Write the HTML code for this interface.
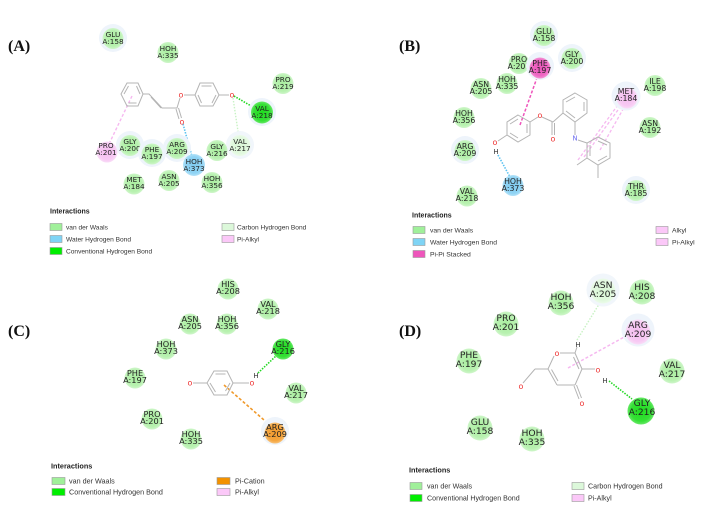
<!DOCTYPE html>
<html><head><meta charset="utf-8"><style>
html,body{margin:0;padding:0;background:#fff;}
svg{display:block;}
.r text{font-family:"DejaVu Sans",sans-serif;fill:#222;text-anchor:middle;}
.lg{font-family:"Liberation Sans",sans-serif;fill:#333;}
.lgt{font-family:"Liberation Sans",sans-serif;font-weight:bold;fill:#222;}
.pl{font-family:"Liberation Serif",serif;font-weight:bold;font-size:16px;fill:#111;}
.b{stroke:#b4b4b4;stroke-width:1;fill:none;}
.o{font-family:"DejaVu Sans",sans-serif;font-size:8px;fill:#e33;text-anchor:middle;}
.h{font-family:"DejaVu Sans",sans-serif;font-size:7px;fill:#333;text-anchor:middle;}
</style></head><body>
<svg width="719" height="511" viewBox="0 0 719 511" xmlns="http://www.w3.org/2000/svg">
<defs>
<radialGradient id="gv"><stop offset="0" stop-color="#a9ee9f"/><stop offset="0.75" stop-color="#b8f1b0"/><stop offset="1" stop-color="#cff6ca"/></radialGradient>
<radialGradient id="gc"><stop offset="0" stop-color="#1fdc1f"/><stop offset="0.75" stop-color="#35e035"/><stop offset="1" stop-color="#66e866"/></radialGradient>
<radialGradient id="gw"><stop offset="0" stop-color="#7fcbf0"/><stop offset="0.75" stop-color="#8fd3f4"/><stop offset="1" stop-color="#b3e2f8"/></radialGradient>
<radialGradient id="gp"><stop offset="0" stop-color="#f4bdef"/><stop offset="0.75" stop-color="#f7c9f3"/><stop offset="1" stop-color="#f9dcf7"/></radialGradient>
<radialGradient id="gh"><stop offset="0" stop-color="#ea55bb"/><stop offset="0.75" stop-color="#ee66c3"/><stop offset="1" stop-color="#f294d4"/></radialGradient>
<radialGradient id="go"><stop offset="0" stop-color="#f39a2c"/><stop offset="0.75" stop-color="#f5a63f"/><stop offset="1" stop-color="#f8c27a"/></radialGradient>
<radialGradient id="gl"><stop offset="0" stop-color="#d9f6d5"/><stop offset="0.75" stop-color="#e0f8dd"/><stop offset="1" stop-color="#ecfbea"/></radialGradient>
</defs>

<!-- Panel labels -->
<text class="pl" x="8" y="51">(A)</text>
<text class="pl" x="399" y="51">(B)</text>
<text class="pl" x="8" y="336">(C)</text>
<text class="pl" x="399" y="336">(D)</text>

<!-- ============ PANEL A ============ -->
<line x1="234" y1="96" x2="258" y2="110" stroke="#22d822" stroke-width="1.6" stroke-dasharray="1.5 1.3"/>
<line x1="233" y1="98" x2="239" y2="138" stroke="#c8f2c4" stroke-width="1.4" stroke-dasharray="1.5 1.5"/>
<line x1="183" y1="124" x2="193" y2="160" stroke="#5cc2f0" stroke-width="1.6" stroke-dasharray="1.5 1.3"/>
<line x1="132" y1="96" x2="109" y2="144" stroke="#f6b8f0" stroke-width="1.4" stroke-dasharray="3 2"/>
<polygon class="b" points="121,94 127,83 138,83 143,94 138,106 127,106"/>
<polyline class="b" points="124,94 128.5,86"/>
<polyline class="b" points="136.5,86 140,94"/>
<polyline class="b" points="128.5,103 136.5,103"/>
<polyline class="b" points="143,94 149,94 162,108 177,108 180,98"/>
<line class="b" x1="151" y1="97" x2="161" y2="108"/>
<line class="b" x1="176" y1="109" x2="179" y2="119"/>
<line class="b" x1="178.5" y1="108" x2="181.5" y2="118"/>
<line class="b" x1="184" y1="95" x2="195" y2="95"/>
<polygon class="b" points="195,95 200,83 213,83 219,95 213,106 200,106"/>
<polyline class="b" points="201.5,86 211.5,86"/>
<polyline class="b" points="216,95 212,103"/>
<polyline class="b" points="198,95 201.5,103"/>
<line class="b" x1="219" y1="95" x2="229" y2="95"/>
<text class="o" x="181" y="97.5">o</text>
<text class="o" x="182" y="124.5">o</text>
<text class="o" x="232" y="97.5">o</text>

<g class="r" font-size="7.3">
<circle cx="113" cy="38" r="14" fill="#eef4fb"/><circle cx="113" cy="38.5" r="10.5" fill="url(#gv)"/><text x="113" y="37">GLU</text><text x="113" y="44">A:158</text>
<circle cx="168" cy="52.5" r="10.5" fill="url(#gv)"/><text x="168" y="51">HOH</text><text x="168" y="58">A:335</text>
<circle cx="283" cy="83.5" r="10.5" fill="url(#gv)"/><text x="283" y="82">PRO</text><text x="283" y="89">A:219</text>
<circle cx="262" cy="112" r="14" fill="#eef4fb"/><circle cx="262" cy="112.5" r="11" fill="url(#gc)"/><text x="262" y="111">VAL</text><text x="262" y="118">A:218</text>
<circle cx="240" cy="145" r="14" fill="#f1f6fb"/><circle cx="240" cy="145.5" r="10.5" fill="url(#gl)"/><text x="240" y="144">VAL</text><text x="240" y="151">A:217</text>
<circle cx="107" cy="152" r="10.5" fill="url(#gp)"/><text x="106" y="148">PRO</text><text x="106" y="155">A:201</text>
<circle cx="130" cy="145" r="14" fill="#eef4fb"/><circle cx="130" cy="145.5" r="10.5" fill="url(#gv)"/><text x="130" y="144">GLY</text><text x="130" y="151">A:200</text>
<circle cx="152" cy="153" r="14" fill="#eef4fb"/><circle cx="152" cy="154" r="10.5" fill="url(#gv)"/><text x="152" y="152">PHE</text><text x="152" y="159">A:197</text>
<circle cx="177" cy="148" r="14" fill="#eef4fb"/><circle cx="177" cy="148.5" r="10.5" fill="url(#gv)"/><text x="177" y="147">ARG</text><text x="177" y="154">A:209</text>
<circle cx="194" cy="165" r="11" fill="url(#gw)"/><text x="194" y="164">HOH</text><text x="194" y="171">A:373</text>
<circle cx="217" cy="150.5" r="10.5" fill="url(#gv)"/><text x="217" y="149">GLY</text><text x="217" y="156">A:216</text>
<circle cx="134" cy="184" r="10.5" fill="url(#gv)"/><text x="134" y="182">MET</text><text x="134" y="189">A:184</text>
<circle cx="169" cy="180.5" r="10.5" fill="url(#gv)"/><text x="169" y="179">ASN</text><text x="169" y="186">A:205</text>
<circle cx="212" cy="182.5" r="10.5" fill="url(#gv)"/><text x="212" y="181">HOH</text><text x="212" y="188">A:356</text>
</g>

<text class="lgt" x="50" y="213.5" font-size="7">Interactions</text>
<rect x="50" y="223.5" width="12" height="7" fill="#a0f09a" stroke="#999" stroke-width="0.6"/>
<text class="lg" x="66" y="229.5" font-size="6.6">van der Waals</text>
<rect x="50" y="235.5" width="12" height="7" fill="#7fd4f5" stroke="#999" stroke-width="0.6"/>
<text class="lg" x="66" y="241.5" font-size="6.6">Water Hydrogen Bond</text>
<rect x="50" y="247.5" width="12" height="7" fill="#00ee00" stroke="#999" stroke-width="0.6"/>
<text class="lg" x="66" y="253.5" font-size="6.6">Conventional Hydrogen Bond</text>
<rect x="222" y="223.5" width="12" height="7" fill="#dcf8da" stroke="#999" stroke-width="0.6"/>
<text class="lg" x="237" y="229.5" font-size="6.6">Carbon Hydrogen Bond</text>
<rect x="222" y="235.5" width="12" height="7" fill="#fbc8f8" stroke="#999" stroke-width="0.6"/>
<text class="lg" x="237" y="241.5" font-size="6.6">Pi-Alkyl</text>

<!-- ============ PANEL B ============ -->
<line x1="520" y1="125" x2="538" y2="75" stroke="#ee55bb" stroke-width="1.5" stroke-dasharray="3 1.8"/>
<line x1="578" y1="160" x2="620" y2="102" stroke="#f6b8f0" stroke-width="1.3" stroke-dasharray="3 2"/>
<line x1="584" y1="157" x2="623" y2="103" stroke="#f6b8f0" stroke-width="1.3" stroke-dasharray="3 2"/>
<line x1="600" y1="150" x2="626" y2="104" stroke="#f6b8f0" stroke-width="1.3" stroke-dasharray="3 2"/>
<line x1="498" y1="155" x2="510" y2="177" stroke="#5cc2f0" stroke-width="1.6" stroke-dasharray="1.5 1.3"/>
<polygon class="b" points="518,115 530,122 530,135 518,142 507,135 507,122"/>
<line class="b" x1="510" y1="124" x2="518" y2="119"/>
<line class="b" x1="527" y1="124" x2="527" y2="133"/>
<line class="b" x1="510" y1="133" x2="518" y2="138"/>
<line class="b" x1="507" y1="135" x2="498" y2="141"/>
<line class="b" x1="530" y1="122" x2="538" y2="117"/>
<line class="b" x1="542" y1="117" x2="553" y2="122"/>
<line class="b" x1="552" y1="122" x2="552" y2="135"/>
<line class="b" x1="554.5" y1="123" x2="554.5" y2="135"/>
<line class="b" x1="553" y1="122" x2="563" y2="113"/>
<polygon class="b" points="575,93 587,100 587,113 575,122 563,113 563,100"/>
<line class="b" x1="566" y1="102" x2="575" y2="97"/>
<line class="b" x1="584" y1="102" x2="584" y2="111"/>
<line class="b" x1="566" y1="111" x2="575" y2="118"/>
<line class="b" x1="575" y1="122" x2="575" y2="135"/>
<line class="b" x1="578" y1="140" x2="587" y2="143"/>
<polygon class="b" points="598,137 610,143 610,158 598,165 587,158 587,143"/>
<line class="b" x1="598" y1="141" x2="607" y2="145"/>
<line class="b" x1="607" y1="156" x2="598" y2="161"/>
<line class="b" x1="590" y1="145" x2="590" y2="156"/>
<line class="b" x1="587" y1="158" x2="577" y2="165"/>
<line class="b" x1="598" y1="165" x2="598" y2="178"/>
<text class="o" x="495" y="145">o</text>
<text class="h" x="496" y="154" font-size="6">H</text>
<text class="o" x="540" y="118">o</text>
<text class="o" x="553" y="141.5">o</text>
<text x="575" y="140.5" font-family="DejaVu Sans" font-size="7" fill="#7070f0" text-anchor="middle">N</text>

<g class="r" font-size="7.8">
<circle cx="544" cy="35" r="14" fill="#eef4fb"/><circle cx="544" cy="35.5" r="10.5" fill="url(#gv)"/><text x="544" y="34">GLU</text><text x="544" y="41">A:158</text>
<circle cx="572" cy="58" r="14" fill="#eef4fb"/><circle cx="572" cy="58.5" r="10.5" fill="url(#gv)"/><text x="572" y="57">GLY</text><text x="572" y="64">A:200</text>
<circle cx="519" cy="63.5" r="10.5" fill="url(#gv)"/><text x="519" y="62">PRO</text><text x="519" y="69">A:201</text>
<circle cx="540" cy="66" r="14" fill="#eef4fb"/><circle cx="540" cy="68" r="10.5" fill="url(#gh)"/><text x="540" y="66">PHE</text><text x="540" y="73">A:197</text>
<circle cx="481" cy="88.5" r="10.5" fill="url(#gv)"/><text x="481" y="87">ASN</text><text x="481" y="94">A:205</text>
<circle cx="507" cy="83.5" r="10.5" fill="url(#gv)"/><text x="507" y="82">HOH</text><text x="507" y="89">A:335</text>
<circle cx="626" cy="96" r="14.5" fill="#eef4fb"/><circle cx="627" cy="98" r="10.5" fill="url(#gp)"/><text x="626" y="94">MET</text><text x="626" y="101">A:184</text>
<circle cx="655" cy="85.5" r="10.5" fill="url(#gv)"/><text x="655" y="84">ILE</text><text x="655" y="91">A:198</text>
<circle cx="650" cy="127.5" r="10.5" fill="url(#gv)"/><text x="650" y="126">ASN</text><text x="650" y="133">A:192</text>
<circle cx="464" cy="117.5" r="10.5" fill="url(#gv)"/><text x="464" y="116">HOH</text><text x="464" y="123">A:356</text>
<circle cx="465" cy="150" r="14" fill="#eef4fb"/><circle cx="465" cy="150.5" r="10.5" fill="url(#gv)"/><text x="465" y="149">ARG</text><text x="465" y="156">A:209</text>
<circle cx="513" cy="185.5" r="10.5" fill="url(#gw)"/><text x="513" y="184">HOH</text><text x="513" y="191">A:373</text>
<circle cx="467" cy="196" r="10.5" fill="url(#gv)"/><text x="467" y="194">VAL</text><text x="467" y="201">A:218</text>
<circle cx="636" cy="190" r="14" fill="#eef4fb"/><circle cx="636" cy="190.5" r="10.5" fill="url(#gv)"/><text x="636" y="189">THR</text><text x="636" y="196">A:185</text>
</g>

<text class="lgt" x="412" y="217.5" font-size="7">Interactions</text>
<rect x="413" y="226.5" width="12" height="7" fill="#a0f09a" stroke="#999" stroke-width="0.6"/>
<text class="lg" x="430" y="232.5" font-size="6.8">van der Waals</text>
<rect x="413" y="238.5" width="12" height="7" fill="#7fd4f5" stroke="#999" stroke-width="0.6"/>
<text class="lg" x="430" y="244.5" font-size="6.8">Water Hydrogen Bond</text>
<rect x="413" y="250.5" width="12" height="7" fill="#ee55bb" stroke="#999" stroke-width="0.6"/>
<text class="lg" x="430" y="256.5" font-size="6.8">Pi-Pi Stacked</text>
<rect x="656" y="226.5" width="12" height="7" fill="#fbc8f8" stroke="#999" stroke-width="0.6"/>
<text class="lg" x="672" y="232.5" font-size="6.8">Alkyl</text>
<rect x="656" y="238.5" width="12" height="7" fill="#fbc8f8" stroke="#999" stroke-width="0.6"/>
<text class="lg" x="672" y="244.5" font-size="6.8">Pi-Alkyl</text>

<!-- ============ PANEL C ============ -->
<line x1="258" y1="373" x2="277" y2="355" stroke="#22d822" stroke-width="1.6" stroke-dasharray="1.5 1.3"/>
<line x1="224" y1="385" x2="272" y2="427" stroke="#f0992a" stroke-width="1.6" stroke-dasharray="3 2"/>
<polygon class="b" points="207,383 214,371 227,371 233,383 227,395 214,395"/>
<line class="b" x1="215.5" y1="374" x2="225.5" y2="374"/>
<line class="b" x1="230" y1="383" x2="225.5" y2="391"/>
<line class="b" x1="210" y1="383" x2="215.5" y2="392"/>
<line class="b" x1="207" y1="383" x2="193" y2="383"/>
<line class="b" x1="233" y1="383" x2="249" y2="383"/>
<text class="o" x="190" y="385.5">o</text>
<text class="o" x="252" y="385.5">o</text>
<text class="h" x="256" y="378" font-size="6">H</text>

<g class="r" font-size="8.2">
<circle cx="228" cy="289" r="10.5" fill="url(#gv)"/><text x="228" y="287">HIS</text><text x="228" y="294">A:208</text>
<circle cx="268" cy="309" r="10.5" fill="url(#gv)"/><text x="268" y="307">VAL</text><text x="268" y="314">A:218</text>
<circle cx="190" cy="324" r="10.5" fill="url(#gv)"/><text x="190" y="322">ASN</text><text x="190" y="329">A:205</text>
<circle cx="227" cy="324" r="10.5" fill="url(#gv)"/><text x="227" y="322">HOH</text><text x="227" y="329">A:356</text>
<circle cx="166" cy="349" r="10.5" fill="url(#gv)"/><text x="166" y="347">HOH</text><text x="166" y="354">A:373</text>
<circle cx="283" cy="349" r="10.5" fill="url(#gc)"/><text x="283" y="347">GLY</text><text x="283" y="354">A:216</text>
<circle cx="135" cy="378" r="10.5" fill="url(#gv)"/><text x="135" y="376">PHE</text><text x="135" y="383">A:197</text>
<circle cx="296" cy="393" r="10.5" fill="url(#gv)"/><text x="296" y="391">VAL</text><text x="296" y="398">A:217</text>
<circle cx="152" cy="419" r="10.5" fill="url(#gv)"/><text x="152" y="417">PRO</text><text x="152" y="424">A:201</text>
<circle cx="191" cy="439" r="10.5" fill="url(#gv)"/><text x="191" y="437">HOH</text><text x="191" y="444">A:335</text>
<circle cx="275" cy="431" r="14" fill="#eef4fb"/><circle cx="275" cy="433" r="10.5" fill="url(#go)"/><text x="275" y="430">ARG</text><text x="275" y="437">A:209</text>
</g>

<text class="lgt" x="51" y="468.5" font-size="7.3">Interactions</text>
<rect x="52" y="477.5" width="13" height="7" fill="#a0f09a" stroke="#999" stroke-width="0.6"/>
<text class="lg" x="69" y="483.5" font-size="7.2">van der Waals</text>
<rect x="52" y="488.5" width="13" height="7" fill="#00ee00" stroke="#999" stroke-width="0.6"/>
<text class="lg" x="69" y="494.5" font-size="7.2">Conventional Hydrogen Bond</text>
<rect x="217" y="477.5" width="13" height="7" fill="#f39200" stroke="#999" stroke-width="0.6"/>
<text class="lg" x="235" y="483.5" font-size="7.2">Pi-Cation</text>
<rect x="217" y="488.5" width="13" height="7" fill="#fbc8f8" stroke="#999" stroke-width="0.6"/>
<text class="lg" x="235" y="494.5" font-size="7.2">Pi-Alkyl</text>

<!-- ============ PANEL D ============ -->
<line x1="577" y1="340" x2="601" y2="301" stroke="#c8f2c4" stroke-width="1.4" stroke-dasharray="1.5 1.5"/>
<line x1="568" y1="368" x2="626" y2="336" stroke="#f6b8f0" stroke-width="1.5" stroke-dasharray="3 2"/>
<line x1="609" y1="381" x2="632" y2="399" stroke="#22d822" stroke-width="1.6" stroke-dasharray="1.5 1.3"/>
<line class="b" x1="560" y1="353" x2="575" y2="353"/>
<line class="b" x1="575" y1="353" x2="582" y2="369"/>
<line class="b" x1="573.5" y1="357" x2="579" y2="369"/>
<line class="b" x1="582" y1="369" x2="575" y2="385"/>
<line class="b" x1="575" y1="385" x2="557" y2="385"/>
<line class="b" x1="557" y1="385" x2="548" y2="369"/>
<line class="b" x1="558" y1="381" x2="551.5" y2="369.5"/>
<line class="b" x1="548" y1="369" x2="554" y2="356"/>
<line class="b" x1="575" y1="353" x2="577" y2="347"/>
<line class="b" x1="582" y1="369" x2="595" y2="369"/>
<line class="b" x1="574" y1="386" x2="579" y2="399"/>
<line class="b" x1="576.5" y1="385" x2="581.5" y2="398"/>
<line class="b" x1="548" y1="369" x2="535" y2="369"/>
<line class="b" x1="535" y1="369" x2="523" y2="383"/>
<text class="o" x="557" y="356" font-size="9">o</text>
<text class="o" x="598" y="372.5" font-size="9">o</text>
<text class="o" x="582" y="406" font-size="9">o</text>
<text class="o" x="521" y="389" font-size="9">o</text>
<text class="h" x="578" y="347" font-size="7">H</text>
<text class="h" x="605" y="383" font-size="7">H</text>

<g class="r" font-size="9.2">
<circle cx="603" cy="290" r="16.5" fill="#f1f6fb"/><circle cx="603" cy="291" r="12.5" fill="url(#gl)"/><text x="603" y="288">ASN</text><text x="603" y="297">A:205</text>
<circle cx="642" cy="292" r="12.5" fill="url(#gv)"/><text x="642" y="290">HIS</text><text x="642" y="299">A:208</text>
<circle cx="561" cy="303" r="12.5" fill="url(#gv)"/><text x="561" y="300">HOH</text><text x="561" y="309">A:356</text>
<circle cx="506" cy="324" r="12.5" fill="url(#gv)"/><text x="506" y="321">PRO</text><text x="506" y="330">A:201</text>
<circle cx="638" cy="330" r="16.5" fill="#eef4fb"/><circle cx="638" cy="332" r="12.5" fill="url(#gp)"/><text x="638" y="328">ARG</text><text x="638" y="337">A:209</text>
<circle cx="469" cy="361" r="12.5" fill="url(#gv)"/><text x="469" y="358">PHE</text><text x="469" y="367">A:197</text>
<circle cx="672" cy="371" r="12.5" fill="url(#gv)"/><text x="672" y="368">VAL</text><text x="672" y="377">A:217</text>
<circle cx="641" cy="411" r="13.5" fill="url(#gc)"/><text x="642" y="406">GLY</text><text x="642" y="415">A:216</text>
<circle cx="480" cy="428" r="12.5" fill="url(#gv)"/><text x="480" y="425">GLU</text><text x="480" y="434">A:158</text>
<circle cx="532" cy="439" r="12.5" fill="url(#gv)"/><text x="532" y="436">HOH</text><text x="532" y="445">A:335</text>
</g>

<text class="lgt" x="409" y="472.5" font-size="7.3">Interactions</text>
<rect x="410" y="482.5" width="12" height="7" fill="#a0f09a" stroke="#999" stroke-width="0.6"/>
<text class="lg" x="427" y="488.5" font-size="7.1">van der Waals</text>
<rect x="410" y="494.5" width="12" height="7" fill="#00ee00" stroke="#999" stroke-width="0.6"/>
<text class="lg" x="427" y="500.5" font-size="7.1">Conventional Hydrogen Bond</text>
<rect x="572" y="482.5" width="12" height="7" fill="#dcf8da" stroke="#999" stroke-width="0.6"/>
<text class="lg" x="588" y="488.5" font-size="7.1">Carbon Hydrogen Bond</text>
<rect x="572" y="494.5" width="12" height="7" fill="#fbc8f8" stroke="#999" stroke-width="0.6"/>
<text class="lg" x="588" y="500.5" font-size="7.1">Pi-Alkyl</text>
</svg>
</body></html>
